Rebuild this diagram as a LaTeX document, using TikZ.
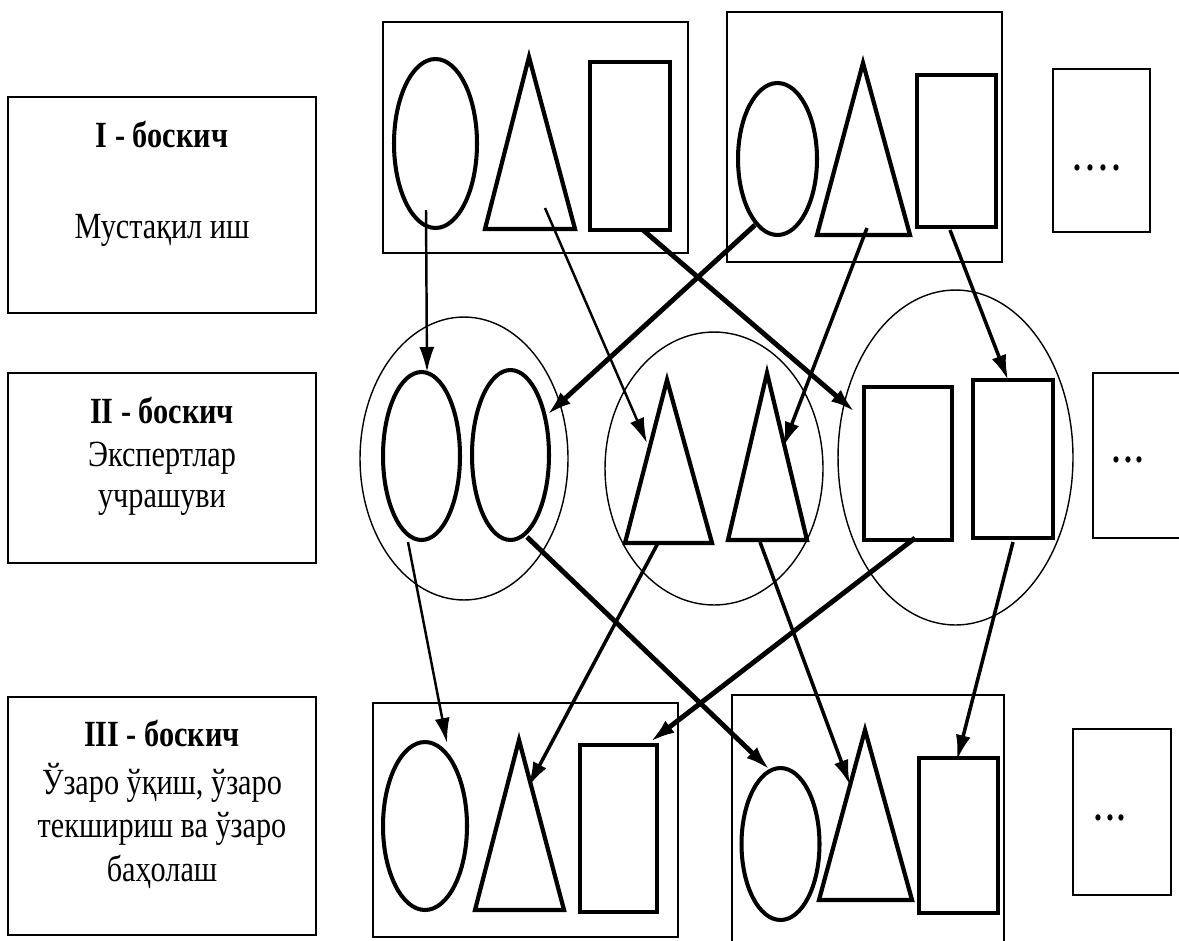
\documentclass[tikz,border=0pt]{standalone}
\usepackage{fontspec}
\setmainfont{Liberation Serif}[FakeStretch=0.82]
\usetikzlibrary{shapes.geometric,arrows.meta}
\begin{document}
\begin{tikzpicture}[x=0.02cm,y=-0.02cm,
  txtbox/.style={draw,line width=1.2pt,rectangle,inner sep=0},
  grpbox/.style={draw,line width=1.1pt,rectangle,inner sep=0},
  bigring/.style={draw,line width=0.8pt,ellipse,inner sep=0},
  oval/.style={draw,line width=2.3pt,ellipse,inner sep=0},
  sqbox/.style={draw,line width=2.6pt,rectangle,inner sep=0},
  tri/.style={line width=2.4pt},
  lbl/.style={anchor=base,inner sep=0,font=\fontsize{21}{25}\selectfont},
  ttl/.style={lbl,font=\fontsize{21}{25}\selectfont\bfseries},
  dots/.style={inner sep=0,font=\fontsize{22}{24}\selectfont\bfseries},
  arr/.style={-{Latex[length=0.5cm,width=0.3cm]}},
  thinarr/.style={arr,line width=1.4pt},
  midarr/.style={arr,line width=2pt},
  thickarr/.style={arr,line width=2.8pt}]
\useasboundingbox[fill=white] (0,0) rectangle (1179,940);

% stage boxes
\node[txtbox,minimum width=6.16cm,minimum height=4.32cm] (T1) at (162,205) {};
\node[ttl] (T1a) at (162,147) {I - боскич};
\node[lbl] (T1b) at (162,238) {Мустақил иш};

\node[txtbox,minimum width=6.16cm,minimum height=3.8cm] (T2) at (162,468) {};
\node[ttl] (T2a) at (162,423) {II - боскич};
\node[lbl] (T2b) at (162,466) {Экспертлар};
\node[lbl] (T2c) at (162,507) {учрашуви};

\node[txtbox,minimum width=6.16cm,minimum height=4.76cm] (T3) at (162,816) {};
\node[ttl] (T3a) at (162,746) {III - боскич};
\node[lbl] (T3b) at (162,794) {Ўзаро ўқиш, ўзаро};
\node[lbl] (T3c) at (162,837) {текшириш ва ўзаро};
\node[lbl] (T3d) at (162,881) {баҳолаш};

% top row
\node[grpbox,minimum width=6.1cm,minimum height=4.62cm] (GA) at (535.5,137.5) {};
\node[oval,minimum width=1.66cm,minimum height=3.38cm] (A1) at (435.5,143.5) {};
\draw[tri] (529,57) -- (485,229) -- (575,229) -- cycle;
\node[sqbox,minimum width=1.6cm,minimum height=3.36cm] (A3) at (630,146) {};

\node[grpbox,minimum width=5.5cm,minimum height=5cm] (GB) at (864.5,137) {};
\node[oval,minimum width=1.58cm,minimum height=3.04cm] (B1) at (777.5,159) {};
\draw[tri] (863,63) -- (817,235) -- (910,235) -- cycle;
\node[sqbox,minimum width=1.58cm,minimum height=3.04cm] (B3) at (956.5,151) {};

\node[grpbox,minimum width=1.94cm,minimum height=3.26cm] (DT) at (1101.5,150.5) {};
\node[dots] (DTd) at (1097,168) {.\hspace{3pt}.\hspace{3pt}.\hspace{3pt}.};

% middle row
\node[bigring,minimum width=4.16cm,minimum height=5.66cm] (RL) at (464,458.5) {};
\node[oval,minimum width=1.54cm,minimum height=3.36cm] (C1) at (421.5,456) {};
\node[oval,minimum width=1.54cm,minimum height=3.4cm] (C2) at (510.5,455) {};

\node[bigring,minimum width=4.36cm,minimum height=5.46cm] (RM) at (714,468.5) {};
\draw[tri] (667,380) -- (625,543) -- (712,543) -- cycle;
\draw[tri] (767,373) -- (728,540) -- (807,540) -- cycle;

\node[bigring,minimum width=4.7cm,minimum height=6.7cm] (RR) at (955.5,457.5) {};
\node[sqbox,minimum width=1.76cm,minimum height=3.06cm] (E1) at (908,463.5) {};
\node[sqbox,minimum width=1.6cm,minimum height=3.16cm] (E2) at (1013,459) {};

\node[grpbox,minimum width=1.84cm,minimum height=3.3cm] (DM) at (1139,455.5) {};
\node[dots] (DMd) at (1128,460) {.\hspace{2pt}.\hspace{2pt}.};

% bottom row
\node[grpbox,minimum width=6.1cm,minimum height=4.68cm] (GF) at (525.5,820) {};
\node[oval,minimum width=1.68cm,minimum height=3.36cm] (F1) at (425,826) {};
\draw[tri] (519,740) -- (475,910) -- (564,910) -- cycle;
\node[sqbox,minimum width=1.54cm,minimum height=3.34cm] (F3) at (618.5,828.5) {};

\node[grpbox,minimum width=5.44cm,minimum height=4.94cm] (GG) at (868,818.5) {};
\node[oval,minimum width=1.56cm,minimum height=3.04cm] (G1) at (780.5,844) {};
\draw[tri] (865,730) -- (819,900) -- (912,900) -- cycle;
\node[sqbox,minimum width=1.58cm,minimum height=3.1cm] (G3) at (958.5,835.5) {};

\node[grpbox,minimum width=1.96cm,minimum height=3.32cm] (DB) at (1122,812) {};
\node[dots] (DBd) at (1110,818) {.\hspace{2pt}.\hspace{2pt}.};

% arrow end points
\coordinate (a1s) at (426,210);  \coordinate (a1e) at (427,372);
\coordinate (a2s) at (545,208);  \coordinate (a2e) at (647,443);
\coordinate (a3s) at (643,230);  \coordinate (a3e) at (855,412);
\coordinate (a4s) at (755,225);  \coordinate (a4e) at (547,415);
\coordinate (a5s) at (867,228);  \coordinate (a5e) at (783,447);
\coordinate (a6s) at (950,230);  \coordinate (a6e) at (1008,380);
\coordinate (a7s) at (408,542);  \coordinate (a7e) at (447,743);
\coordinate (a8s) at (527,537);  \coordinate (a8e) at (770,770);
\coordinate (a9s) at (658,543);  \coordinate (a9e) at (528,787);
\coordinate (a10s) at (760,542); \coordinate (a10e) at (850,785);
\coordinate (a11s) at (915,538); \coordinate (a11e) at (650,742);
\coordinate (a12s) at (1013,542);\coordinate (a12e) at (957,760);

\draw[thinarr] (a1s) -- (a1e);
\draw[thinarr] (a2s) -- (a2e);
\draw[thickarr] (a3s) -- (a3e);
\draw[thickarr] (a4s) -- (a4e);
\draw[midarr] (a5s) -- (a5e);
\draw[midarr] (a6s) -- (a6e);
\draw[thinarr] (a7s) -- (a7e);
\draw[thickarr] (a8s) -- (a8e);
\draw[midarr] (a9s) -- (a9e);
\draw[midarr] (a10s) -- (a10e);
\draw[thickarr] (a11s) -- (a11e);
\draw[midarr] (a12s) -- (a12e);
\end{tikzpicture}
\end{document}
